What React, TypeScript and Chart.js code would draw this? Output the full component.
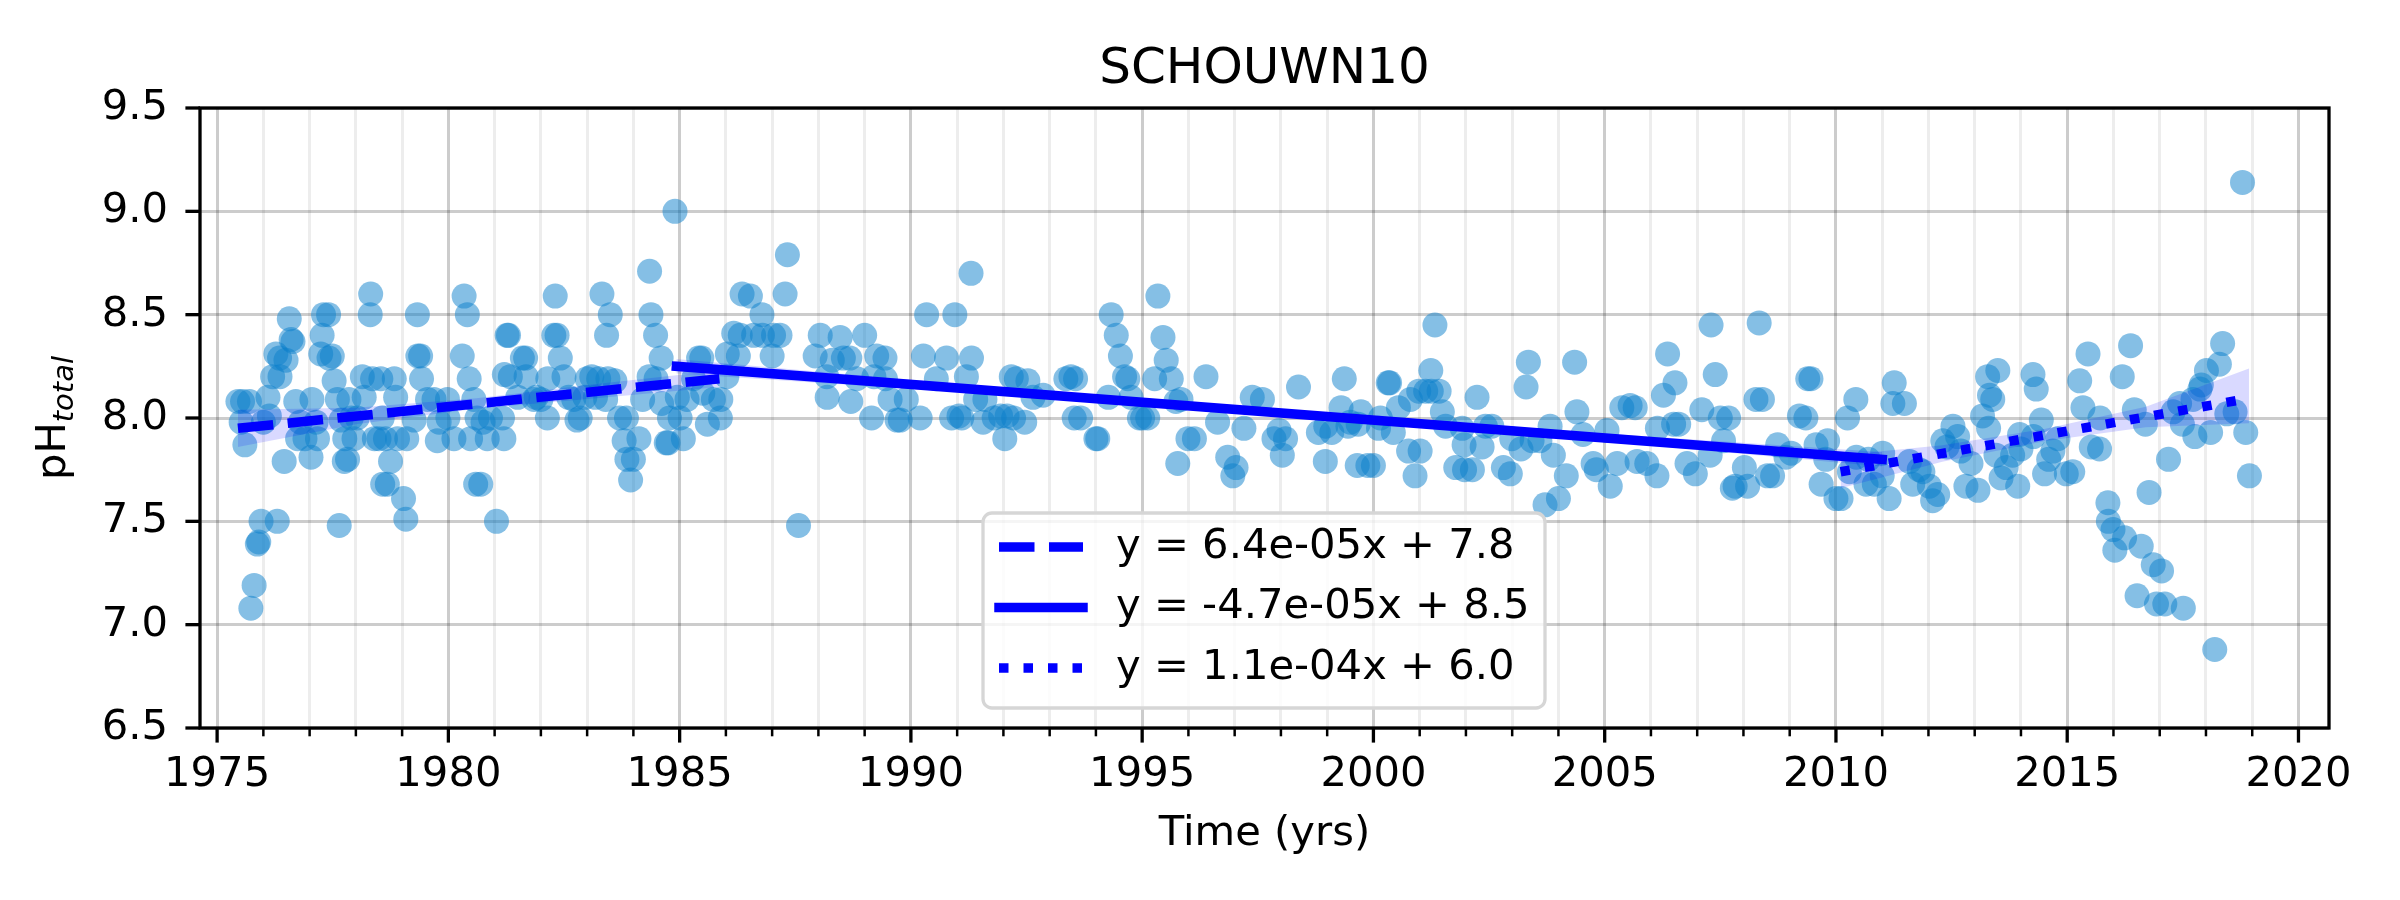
import React, { useEffect, useRef } from "react";
import Chart from "chart.js/auto";

const FAMILY = "'DejaVu Sans', 'Liberation Sans', sans-serif";
const chartTitle = "SCHOUWN10";
const xAxisTitle = "Time (yrs)";

// sample dates (decimal years) and pH readings, split by trend period
const yearsA = [
  1975.45, 1975.52, 1975.55, 1975.6, 1975.7, 1975.73, 1975.8, 1975.87, 1975.9, 1975.95,
  1976.0, 1976.1, 1976.13, 1976.2, 1976.27, 1976.3, 1976.35, 1976.36, 1976.45, 1976.49,
  1976.56, 1976.6, 1976.64, 1976.7, 1976.74, 1976.8, 1976.9, 1977.03, 1977.05, 1977.14,
  1977.17, 1977.24, 1977.27, 1977.3, 1977.41, 1977.42, 1977.49, 1977.53, 1977.6, 1977.64,
  1977.68, 1977.75, 1977.76, 1977.82, 1977.85, 1977.9, 1977.96, 1978.03, 1978.14, 1978.18,
  1978.31, 1978.32, 1978.36, 1978.4, 1978.5, 1978.54, 1978.57, 1978.58, 1978.64, 1978.68,
  1978.75, 1978.83, 1978.86, 1978.9, 1979.03, 1979.08, 1979.1, 1979.26, 1979.33, 1979.34,
  1979.4, 1979.42, 1979.55, 1979.69, 1979.76, 1979.8, 1979.98, 1979.99, 1980.12, 1980.3,
  1980.34, 1980.41, 1980.45, 1980.48, 1980.55, 1980.59, 1980.62, 1980.7, 1980.75, 1980.84,
  1980.91, 1981.04, 1981.17, 1981.2, 1981.21, 1981.27, 1981.3, 1981.34, 1981.5, 1981.6,
  1981.67, 1981.68, 1981.85, 1981.9, 1982.0, 1982.14, 1982.15, 1982.28, 1982.31, 1982.35,
  1982.42, 1982.5, 1982.6, 1982.71, 1982.78, 1982.85, 1982.95, 1983.0, 1983.1, 1983.18,
  1983.25, 1983.32, 1983.4, 1983.42, 1983.45, 1983.5, 1983.6, 1983.7, 1983.8, 1983.85,
  1983.86, 1983.94, 1984.0, 1984.12, 1984.2, 1984.34, 1984.35, 1984.38, 1984.48, 1984.49,
  1984.6, 1984.61, 1984.71, 1984.75, 1984.78, 1984.9, 1984.95,
];
const phA = [
  8.08, 7.98, 8.08, 7.87, 8.08, 7.08, 7.19, 7.39, 7.4, 7.5,
  7.98, 8.1, 8.01, 8.2, 8.31, 7.5, 8.29, 8.2, 7.79, 8.28,
  8.48, 8.38, 8.37, 8.08, 7.9, 7.98, 7.9, 7.81, 8.09, 7.98,
  7.9, 8.31, 8.4, 8.5, 8.5, 8.29, 8.3, 8.18, 8.09, 7.48,
  7.99, 7.79, 7.9, 7.8, 8.09, 8.0, 7.9, 8.0, 8.2, 8.1,
  8.5, 8.6, 8.19, 7.9, 7.9, 8.19, 8.0, 7.68, 7.9, 7.68,
  7.79, 8.19, 8.1, 7.9, 7.61, 7.51, 7.9, 7.99, 8.5, 8.3,
  8.3, 8.19, 8.09, 8.09, 7.89, 7.98, 8.09, 8.0, 7.9, 8.3,
  8.59, 8.5, 8.19, 7.9, 8.09, 7.68, 8.0, 7.68, 7.98, 7.9,
  8.0, 7.5, 8.0, 7.9, 8.21, 8.4, 8.4, 8.2, 8.1, 8.29,
  8.29, 8.2, 8.09, 8.1, 8.09, 8.0, 8.19, 8.4, 8.59, 8.4,
  8.29, 8.2, 8.1, 8.09, 7.99, 8.0, 8.1, 8.19, 8.2, 8.1,
  8.19, 8.6, 8.09, 8.4, 8.19, 8.5, 8.18, 8.0, 7.89, 8.0,
  7.8, 7.7, 7.8, 7.9, 8.09, 8.2, 8.71, 8.5, 8.4, 8.19,
  8.29, 8.07, 7.88, 7.88, 8.0, 9.0, 8.1,
];

const yearsB = [
  1985.01, 1985.08, 1985.16, 1985.3, 1985.41, 1985.48, 1985.5, 1985.6, 1985.73, 1985.88,
  1985.89, 1986.02, 1986.03, 1986.17, 1986.27, 1986.31, 1986.35, 1986.53, 1986.6, 1986.78,
  1986.79, 1987.0, 1987.03, 1987.17, 1987.28, 1987.33, 1987.57, 1987.93, 1988.04, 1988.18,
  1988.19, 1988.3, 1988.47, 1988.54, 1988.68, 1988.7, 1988.83, 1989.0, 1989.15, 1989.2,
  1989.26, 1989.44, 1989.45, 1989.55, 1989.7, 1989.77, 1989.9, 1990.2, 1990.27, 1990.34,
  1990.55, 1990.77, 1990.88, 1990.95, 1991.04, 1991.1, 1991.2, 1991.3, 1991.31, 1991.4,
  1991.56, 1991.6, 1991.8, 1991.94, 1992.03, 1992.08, 1992.17, 1992.22, 1992.28, 1992.46,
  1992.53, 1992.64, 1992.86, 1993.35, 1993.46, 1993.53, 1993.56, 1993.67, 1994.0, 1994.04,
  1994.27, 1994.33, 1994.44, 1994.53, 1994.62, 1994.69, 1994.76, 1994.94, 1995.01, 1995.12,
  1995.27, 1995.34, 1995.45, 1995.52, 1995.63, 1995.73, 1995.77, 1995.84, 1995.99, 1996.13,
  1996.38, 1996.63, 1996.85, 1996.96, 1997.03, 1997.2, 1997.38, 1997.6, 1997.85, 1997.96,
  1998.03, 1998.1, 1998.38, 1998.81, 1998.96, 1998.97, 1999.1, 1999.3, 1999.37, 1999.45,
  1999.5, 1999.65, 1999.67, 1999.73, 1999.88, 2000.0, 2000.11, 2000.15, 2000.32, 2000.35,
  2000.43, 2000.54, 2000.76, 2000.8, 2000.9, 2000.98, 2001.01, 2001.13, 2001.24, 2001.25,
  2001.33, 2001.42, 2001.49, 2001.56, 2001.78, 2001.92, 2001.96, 2001.97, 2002.14, 2002.24,
  2002.35, 2002.42, 2002.56, 2002.81, 2002.96, 2002.99, 2003.19, 2003.3, 2003.35, 2003.43,
  2003.6, 2003.71, 2003.82, 2003.89, 2004.0, 2004.17, 2004.35, 2004.4, 2004.53, 2004.75,
  2004.82, 2005.05, 2005.12, 2005.27, 2005.37, 2005.55, 2005.66, 2005.7, 2005.91, 2006.13,
  2006.14, 2006.27, 2006.36, 2006.49, 2006.52, 2006.6, 2006.78, 2006.96, 2007.1, 2007.28,
  2007.3, 2007.39, 2007.5, 2007.57, 2007.68, 2007.76, 2007.82, 2008.02, 2008.09, 2008.27,
  2008.34, 2008.41, 2008.52, 2008.63, 2008.74, 2008.92, 2009.03, 2009.21, 2009.35, 2009.39,
  2009.46, 2009.57, 2009.68, 2009.78, 2009.82,
];
const phB = [
  8.0, 7.9, 8.09, 8.19, 8.29, 8.29, 8.12, 7.97, 8.09, 8.0,
  8.09, 8.2, 8.31, 8.41, 8.3, 8.4, 8.6, 8.59, 8.4, 8.5,
  8.4, 8.3, 8.4, 8.4, 8.6, 8.79, 7.48, 8.3, 8.4, 8.2,
  8.1, 8.28, 8.39, 8.29, 8.29, 8.08, 8.19, 8.4, 8.0, 8.2,
  8.3, 8.29, 8.19, 8.09, 7.99, 7.99, 8.09, 8.0, 8.3, 8.5,
  8.19, 8.29, 8.0, 8.5, 8.01, 8.0, 8.2, 8.7, 8.29, 8.09,
  7.98, 8.09, 8.0, 8.01, 7.9, 8.01, 8.2, 8.0, 8.19, 7.98,
  8.18, 8.1, 8.11, 8.19, 8.2, 8.0, 8.19, 8.0, 7.9, 7.9,
  8.1, 8.5, 8.4, 8.3, 8.2, 8.19, 8.1, 8.0, 8.0, 8.0,
  8.19, 8.59, 8.39, 8.28, 8.19, 8.08, 7.78, 8.09, 7.9, 7.9,
  8.2, 7.98, 7.81, 7.72, 7.76, 7.95, 8.1, 8.09, 7.9, 7.94,
  7.82, 7.9, 8.15, 7.93, 7.79, 7.96, 7.93, 8.05, 8.19, 7.96,
  7.98, 7.77, 7.97, 8.03, 7.77, 7.77, 7.95, 8.0, 8.17, 8.17,
  7.93, 8.05, 7.84, 8.09, 7.72, 8.13, 7.84, 8.13, 8.23, 8.13,
  8.45, 8.13, 8.03, 7.96, 7.76, 7.95, 7.87, 7.75, 7.75, 8.1,
  7.86, 7.96, 7.96, 7.76, 7.73, 7.9, 7.85, 8.15, 8.27, 7.89,
  7.89, 7.58, 7.96, 7.82, 7.61, 7.72, 8.27, 8.03, 7.92, 7.78,
  7.75, 7.94, 7.67, 7.78, 8.05, 8.06, 8.05, 7.79, 7.78, 7.72,
  7.95, 8.11, 8.31, 7.97, 8.17, 7.97, 7.78, 7.73, 8.04, 7.82,
  8.45, 8.21, 8.0, 7.89, 8.0, 7.66, 7.67, 7.76, 7.67, 8.09,
  8.46, 8.09, 7.72, 7.72, 7.87, 7.81, 7.83, 8.01, 8.0, 8.19,
  8.19, 7.87, 7.68, 7.8, 7.89,
];

const yearsC = [
  2010.0, 2010.11, 2010.25, 2010.29, 2010.43, 2010.44, 2010.65, 2010.7, 2010.83, 2011.0,
  2011.01, 2011.15, 2011.23, 2011.26, 2011.48, 2011.59, 2011.66, 2011.8, 2011.88, 2012.02,
  2012.09, 2012.2, 2012.31, 2012.4, 2012.53, 2012.63, 2012.7, 2012.81, 2012.92, 2013.07,
  2013.17, 2013.28, 2013.3, 2013.32, 2013.39, 2013.46, 2013.5, 2013.57, 2013.68, 2013.82,
  2013.93, 2013.97, 2014.0, 2014.26, 2014.27, 2014.33, 2014.44, 2014.51, 2014.6, 2014.69,
  2014.8, 2014.98, 2015.12, 2015.27, 2015.34, 2015.45, 2015.52, 2015.7, 2015.71, 2015.88,
  2015.89, 2015.99, 2016.03, 2016.19, 2016.24, 2016.37, 2016.45, 2016.51, 2016.6, 2016.69,
  2016.77, 2016.86, 2016.93, 2017.04, 2017.11, 2017.19, 2017.29, 2017.43, 2017.49, 2017.51,
  2017.72, 2017.76, 2017.87, 2017.9, 2018.01, 2018.1, 2018.19, 2018.29, 2018.36, 2018.45,
  2018.63, 2018.79, 2018.86, 2018.94,
];
const phC = [
  7.61, 7.61, 8.0, 7.74, 8.09, 7.81, 7.68, 7.8, 7.68, 7.72,
  7.83, 7.61, 8.07, 8.17, 8.07, 7.79, 7.68, 7.75, 7.74, 7.67,
  7.6, 7.63, 7.89, 7.86, 7.96, 7.91, 7.84, 7.67, 7.78, 7.65,
  8.01, 8.2, 7.95, 8.11, 8.09, 7.82, 8.23, 7.71, 7.76, 7.82,
  7.67, 7.92, 7.85, 8.21, 7.91, 8.14, 7.99, 7.73, 7.8, 7.84,
  7.9, 7.73, 7.74, 8.18, 8.05, 8.31, 7.86, 7.85, 8.0, 7.59,
  7.5, 7.46, 7.36, 8.2, 7.42, 8.35, 8.04, 7.14, 7.38, 7.97,
  7.64, 7.29, 7.1, 7.26, 7.1, 7.8, 8.03, 8.07, 7.97, 7.08,
  8.09, 7.91, 8.14, 8.16, 8.23, 7.93, 6.88, 8.26, 8.36, 8.02,
  8.03, 9.14, 7.93, 7.72,
];

// fitted trend segments (end points)
const trendAYears = [1975.45, 1985.86];
const trendAPh = [7.95, 8.19];
const trendBYears = [1984.93, 2011.0];
const trendBPh = [8.25, 7.8];
const trendCYears = [2010.1, 2018.93];
const trendCPh = [7.74, 8.095];

// confidence bands around each trend
const bandAYears = [1975.45, 1978.0, 1980.6, 1983.2, 1985.86];
const bandAUpper = [8.04, 8.05, 8.095, 8.165, 8.23];
const bandALower = [7.86, 7.97, 8.045, 8.095, 8.15];
const bandBYears = [1984.93, 1991.5, 1998.0, 2004.5, 2011.0];
const bandBUpper = [8.285, 8.155, 8.041, 7.932, 7.835];
const bandBLower = [8.215, 8.119, 8.011, 7.896, 7.765];
const bandCYears = [2010.1, 2012.3, 2014.5, 2016.7, 2018.93];
const bandCUpper = [7.82, 7.868, 7.947, 8.055, 8.24];
const bandCLower = [7.66, 7.788, 7.887, 7.955, 7.975];

const legendLabels = ["y = 6.4e-05x + 7.8", "y = -4.7e-05x + 8.5", "y = 1.1e-04x + 6.0"];

const yearTicks = [
  1975, 1976, 1977, 1978, 1979, 1980, 1981, 1982, 1983, 1984, 1985, 1986, 1987, 1988, 1989,
  1990, 1991, 1992, 1993, 1994, 1995, 1996, 1997, 1998, 1999, 2000, 2001, 2002, 2003, 2004,
  2005, 2006, 2007, 2008, 2009, 2010, 2011, 2012, 2013, 2014, 2015, 2016, 2017, 2018, 2019, 2020,
];
const labelYears = [1975, 1980, 1985, 1990, 1995, 2000, 2005, 2010, 2015, 2020];
const phTicks = [6.5, 7.0, 7.5, 8.0, 8.5, 9.0, 9.5];

const BLUE = "rgb(0,0,255)";
const LINE_W = 9.5;
const DASHED = [35.5, 14.5];
const DOTTED = [9.5, 15];

const pairs = (xs: number[], ys: number[]) => xs.map((x, i) => ({ x, y: ys[i] }));

const decorations = {
  id: "decorations",
  afterDraw(chart: any) {
    const { ctx, chartArea: a, scales } = chart;
    const xs = scales.x;
    const ys = scales.y;
    ctx.save();
    ctx.strokeStyle = "#000";
    ctx.lineCap = "butt";

    // tick marks
    xs.ticks.forEach((t: any) => {
      const px = xs.getPixelForValue(t.value);
      const major = labelYears.includes(t.value);
      ctx.lineWidth = major ? 3.3 : 2.5;
      ctx.beginPath();
      ctx.moveTo(px, a.bottom);
      ctx.lineTo(px, a.bottom + (major ? 14.6 : 8.3));
      ctx.stroke();
    });
    ys.ticks.forEach((t: any) => {
      const py = ys.getPixelForValue(t.value);
      ctx.lineWidth = 3.3;
      ctx.beginPath();
      ctx.moveTo(a.left, py);
      ctx.lineTo(a.left - 14.6, py);
      ctx.stroke();
    });

    // spines
    ctx.lineWidth = 3.3;
    ctx.strokeRect(a.left, a.top, a.right - a.left, a.bottom - a.top);

    const cx = (a.left + a.right) / 2;
    ctx.fillStyle = "#000";
    ctx.textAlign = "center";
    ctx.textBaseline = "alphabetic";
    ctx.font = `50px ${FAMILY}`;
    ctx.fillText(chartTitle, cx, a.top - 25);
    ctx.font = `41.7px ${FAMILY}`;
    ctx.fillText(xAxisTitle, cx, a.bottom + 117);

    // y label: pH with italic subscript
    const cy = (a.top + a.bottom) / 2;
    ctx.save();
    ctx.translate(a.left - 135, cy);
    ctx.rotate(-Math.PI / 2);
    ctx.textAlign = "left";
    ctx.font = `41.7px ${FAMILY}`;
    const w1 = ctx.measureText("pH").width;
    ctx.font = `italic 29px ${FAMILY}`;
    const w2 = ctx.measureText("total").width;
    const start = -(w1 + w2) / 2;
    ctx.font = `41.7px ${FAMILY}`;
    ctx.fillText("pH", start, 0);
    ctx.font = `italic 29px ${FAMILY}`;
    ctx.fillText("total", start + w1, 8);
    ctx.restore();

    // legend
    const lx = a.left + 783;
    const ly = a.top + 405;
    const lw = 562;
    const lh = 195;
    ctx.beginPath();
    ctx.roundRect(lx, ly, lw, lh, 9);
    ctx.fillStyle = "rgba(255,255,255,0.8)";
    ctx.fill();
    ctx.strokeStyle = "rgb(214,214,214)";
    ctx.lineWidth = 3.3;
    ctx.stroke();
    const dashes = [DASHED, [], DOTTED];
    legendLabels.forEach((label, i) => {
      const rowY = ly + 34 + i * 60.5;
      ctx.strokeStyle = BLUE;
      ctx.lineWidth = LINE_W;
      ctx.setLineDash(dashes[i]);
      ctx.lineCap = i === 1 ? "square" : "butt";
      ctx.beginPath();
      ctx.moveTo(lx + 16, rowY);
      ctx.lineTo(lx + 100, rowY);
      ctx.stroke();
      ctx.setLineDash([]);
      ctx.fillStyle = "#000";
      ctx.font = `41.7px ${FAMILY}`;
      ctx.textAlign = "left";
      ctx.textBaseline = "middle";
      ctx.fillText(label, lx + 133, rowY);
    });
    ctx.restore();
  },
};

const bandDatasets = (xs: number[], lower: number[], upper: number[]) => [
  {
    data: pairs(xs, lower),
    showLine: true,
    borderWidth: 0,
    pointRadius: 0,
    fill: false,
    order: 1,
  },
  {
    data: pairs(xs, upper),
    showLine: true,
    borderWidth: 0,
    pointRadius: 0,
    fill: "-1",
    backgroundColor: "rgba(0,0,255,0.15)",
    order: 1,
  },
];

const trendDataset = (xs: number[], ys: number[], dash: number[], cap: string) => ({
  data: pairs(xs, ys),
  showLine: true,
  borderColor: BLUE,
  borderWidth: LINE_W,
  borderDash: dash,
  borderCapStyle: cap,
  pointRadius: 0,
  fill: false,
  order: 0,
});

const App = () => {
  const canvasRef = useRef<HTMLCanvasElement>(null);

  useEffect(() => {
    document.body.style.margin = "0";
    if (!canvasRef.current) return;
    const samples = pairs(
      [...yearsA, ...yearsB, ...yearsC],
      [...phA, ...phB, ...phC]
    );

    const chart = new Chart(canvasRef.current, {
      type: "scatter",
      data: {
        datasets: [
          ...bandDatasets(bandAYears, bandALower, bandAUpper),
          ...bandDatasets(bandBYears, bandBLower, bandBUpper),
          ...bandDatasets(bandCYears, bandCLower, bandCUpper),
          {
            data: samples,
            pointRadius: 12.5,
            pointBorderWidth: 0,
            backgroundColor: "rgba(12,128,204,0.5)",
            order: 2,
          },
          trendDataset(trendAYears, trendAPh, DASHED, "butt"),
          trendDataset(trendBYears, trendBPh, [], "square"),
          trendDataset(trendCYears, trendCPh, DOTTED, "butt"),
        ] as any,
      },
      options: {
        animation: false,
        responsive: false,
        devicePixelRatio: 1,
        events: [],
        layout: { padding: { top: 108, right: 71, left: 0, bottom: 0 } },
        plugins: {
          legend: { display: false },
          tooltip: { enabled: false },
          title: { display: false },
        },
        scales: {
          x: {
            type: "linear",
            min: 1974.63,
            max: 2020.66,
            afterFit: (s: any) => {
              s.height = 172;
            },
            afterBuildTicks: (s: any) => {
              s.ticks = yearTicks.map((v) => ({ value: v }));
            },
            ticks: {
              autoSkip: false,
              maxRotation: 0,
              padding: 22,
              color: "#000",
              font: { family: FAMILY, size: 41.7 },
              callback: (v: any) => (labelYears.includes(v) ? String(v) : ""),
            },
            grid: {
              drawTicks: false,
              lineWidth: 3,
              color: (c: any) =>
                c.tick && labelYears.includes(c.tick.value)
                  ? "rgba(0,0,0,0.2)"
                  : "rgba(0,0,0,0.07)",
            },
            border: { display: false },
          },
          y: {
            type: "linear",
            min: 6.5,
            max: 9.5,
            afterFit: (s: any) => {
              s.width = 200;
            },
            afterBuildTicks: (s: any) => {
              s.ticks = phTicks.map((v) => ({ value: v }));
            },
            ticks: {
              padding: 32,
              color: "#000",
              font: { family: FAMILY, size: 41.7 },
              callback: (v: any) => Number(v).toFixed(1),
            },
            grid: {
              drawTicks: false,
              lineWidth: 3,
              color: "rgba(0,0,0,0.2)",
            },
            border: { display: false },
          },
        },
      } as any,
      plugins: [decorations],
    });

    return () => {
      chart.destroy();
    };
  }, []);

  return (
    <div style={{ width: "2400px", height: "900px" }}>
      <canvas
        ref={canvasRef}
        width={2400}
        height={900}
        style={{ display: "block", width: "2400px", height: "900px" }}
      />
    </div>
  );
};

export default App;
